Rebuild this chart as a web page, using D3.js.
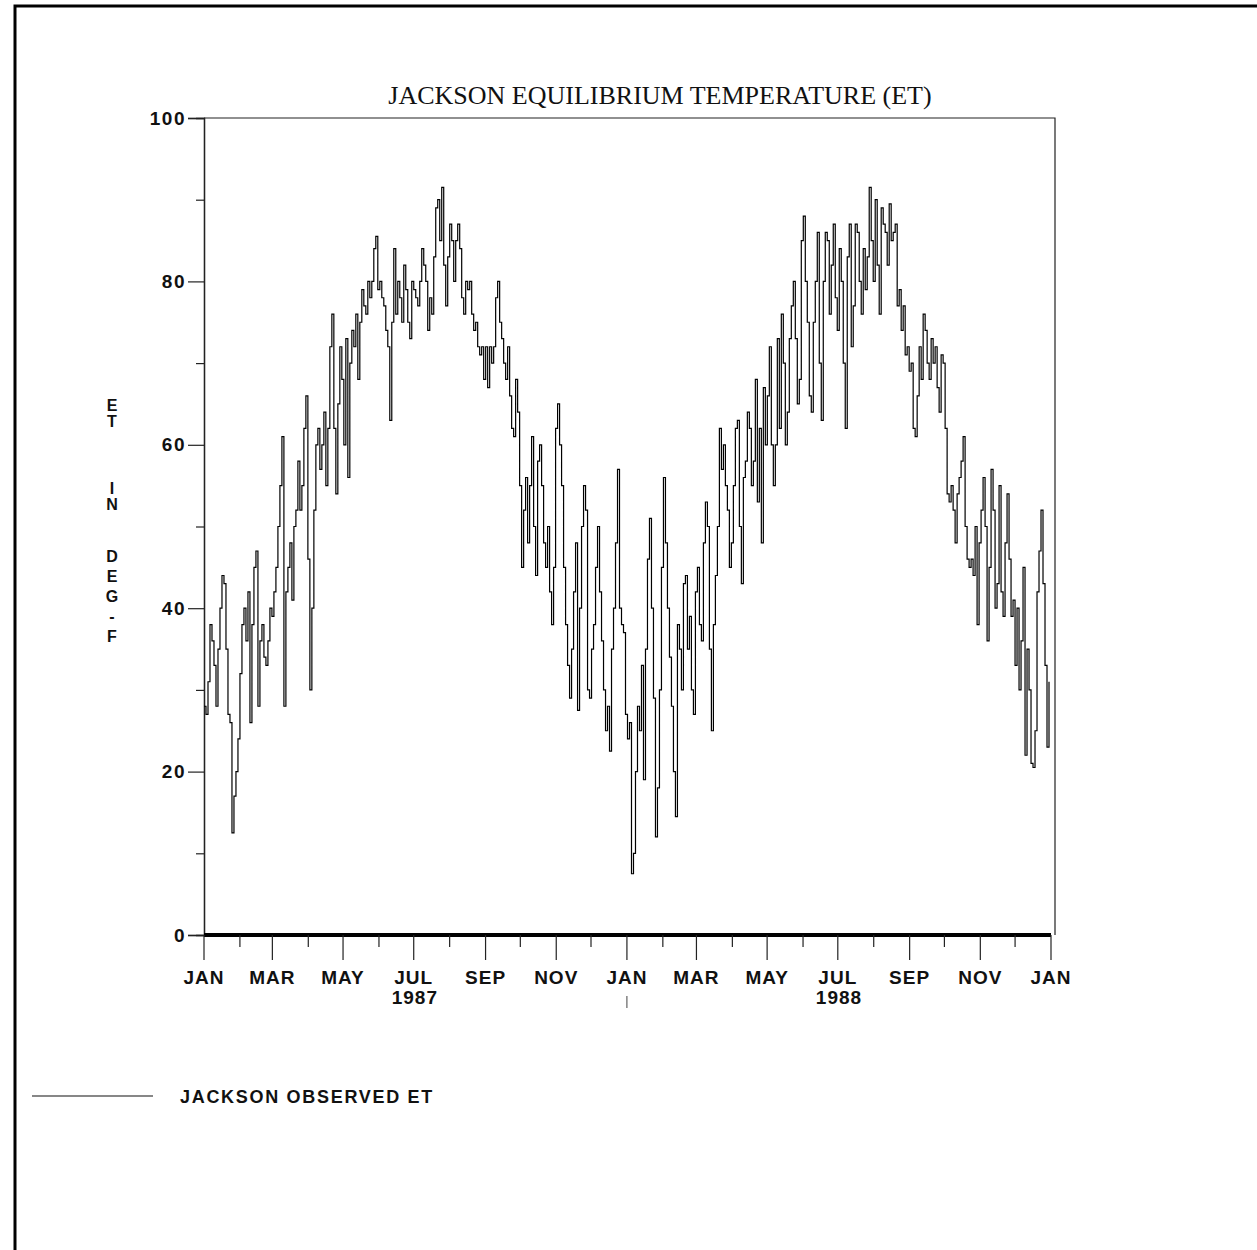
<!DOCTYPE html>
<html><head><meta charset="utf-8">
<script src="https://cdn.jsdelivr.net/npm/d3@7"></script>
<style>body{margin:0;background:#fff}svg{display:block}.vt{writing-mode:vertical-rl;text-orientation:upright}</style>
</head><body>
<svg id="c" width="1257" height="1250"></svg>
<script>
// ---- data (roughly every 1.7 days) ----
const startDate = new Date(1987, 0, 1);
const endDate = new Date(1989, 0, 1);
const values = [
28,27,31,38,36,33,28,35,40,44,43,35,27,26,
12.5,17,20,24,32,38,40,36,42,26,38,45,47,28,36,38,34,33,36,40,39,42,45,50,55,61,
28,42,45,48,41,50,52,58,52,55,62,66,46,30,40,52,60,62,57,60,64,55,62,72,
76,62,54,65,72,68,60,73,56,70,74,72,76,68,75,79,77,76,80,78,80,84,85.5,79,80,
78,77,74,72,63,75,84,76,80,78,75,82,79,75,73,80,79,78,77,80,84,82,80,74,78,
76,83,89,90,85,91.5,82,77,83,87,85,80,85,87,84,78,76,80,79,80,76,74,75,72,71,
72,68,72,67,72,70,72,78,80,75,73,70,68,72,66,62,61,68,64,55,45,52,56,48,55,
61,50,44,58,60,55,48,45,50,42,38,45,62,65,60,55,45,38,33,29,35,42,48,27.5,40,
50,55,52,30,29,35,38,45,50,42,36,30,25,28,22.5,35,40,48,57,40,38,37,27,24,26,
7.5,10,20,28,25,33,19,35,46,51,40,29,12,18,30,45,56,48,40,34,28,20,14.5,38,35,
30,43,44,35,39,30,27,42,45,38,36,48,53,50,35,25,38,44,50,62,57,60,55,52,45,
48,55,62,63,50,43,56,58,64,62,55,58,68,53,62,48,67,60,66,72,60,55,60,73,62,
76,70,60,64,73,77,80,73,65,68,85,88,80,75,66,64,75,80,86,70,63,80,86,85,76,
82,87,78,74,84,80,70,62,83,87,72,77,87,86,80,76,84,79,83,91.5,85,80,90,82,76,
89,87,86,82,89.5,85,86,87,77,79,74,77,71,72,69,70,62,61,66,72,68,76,74,70,68,
73,70,72,67,64,71,70,62,54,53,55,52,48,54,56,58,61,50,46,45,46,44,50,38,48,
52,56,50,36,45,57,52,40,43,55,42,39,48,54,46,39,41,33,40,30,36,45,22,35,30,
21,20.5,25,42,47,52,43,33,23,31
];
const yMajorTicks = [0, 20, 40, 60, 80, 100];
const yMinorTicks = [10, 30, 50, 70, 90];
const monthNames = ["JAN","FEB","MAR","APR","MAY","JUN","JUL","AUG","SEP","OCT","NOV","DEC"];
const yearLabels = ["1987", "1988"];
const titleText = "JACKSON EQUILIBRIUM TEMPERATURE (ET)";
const yTitleWords = ["ET", "IN", "DEG-F"];
const legendLabel = "JACKSON OBSERVED ET";

// ---- layout ----
const svg = d3.select("#c");
const L = 204, R = 1051, RF = 1055, T = 118, B = 935;
const x = d3.scaleTime().domain([startDate, endDate]).range([L, R]);
const y = d3.scaleLinear().domain([0, 100]).range([B, T]);
const stepMs = (endDate - startDate) / values.length;
const data = values.map((v, i) => ({ date: new Date(+startDate + i * stepMs), v }));

const sans = "'Liberation Sans', Arial, Helvetica, sans-serif";
const serif = "'Liberation Serif', 'Times New Roman', serif";

// outer frame (right and bottom edges fall outside the page)
svg.append("rect").attr("x", 15).attr("y", 6).attr("width", 1260).attr("height", 1260)
  .attr("fill", "none").attr("stroke", "#000").attr("stroke-width", 3);

// title
svg.append("text").attr("x", 660).attr("y", 104).attr("text-anchor", "middle")
  .attr("font-family", serif).attr("font-size", 26).attr("fill", "#111").text(titleText);

// plot frame (top and right)
svg.append("path").attr("d", `M${L},${T}H${RF}V${B}`).attr("fill", "none")
  .attr("stroke", "#222").attr("stroke-width", 1.2);

// y axis
const gy = svg.append("g").attr("transform", `translate(${L},0)`);
gy.call(d3.axisLeft(y).tickValues(yMajorTicks).tickSize(16).tickPadding(2).tickFormat(d3.format("d")));
gy.append("g").call(d3.axisLeft(y).tickValues(yMinorTicks).tickSize(8).tickFormat(""));
gy.selectAll(".domain").attr("stroke", "#222").attr("stroke-width", 1.3);
gy.selectAll("line").attr("stroke", "#222").attr("stroke-width", 1.2);
gy.selectAll("text").attr("font-family", sans).attr("font-weight", "bold")
  .attr("font-size", 19).attr("letter-spacing", 1.5).attr("fill", "#111");

// y title: upright stacked letters, one text per word
const yTitleTop = [397, 480, 548];
const yTitleSpacing = [-1, -1, 3];
svg.append("g").selectAll("text").data(yTitleWords).join("text")
  .attr("class", "vt")
  .attr("x", 112).attr("y", (d, i) => yTitleTop[i])
  .attr("font-family", sans).attr("font-weight", "bold").attr("font-size", 16)
  .attr("letter-spacing", (d, i) => yTitleSpacing[i])
  .attr("fill", "#111").text(d => d);

// x axis: thick baseline
svg.append("line").attr("x1", L).attr("x2", R).attr("y1", y(0)).attr("y2", y(0))
  .attr("stroke", "#000").attr("stroke-width", 4);
const months = d3.timeMonth.range(startDate, d3.timeDay.offset(endDate, 1));
const gx = svg.append("g");
gx.selectAll("line").data(months).join("line")
  .attr("x1", d => x(d)).attr("x2", d => x(d))
  .attr("y1", y(0)).attr("y2", d => y(0) + (d.getMonth() % 2 === 0 ? 25 : 12))
  .attr("stroke", "#222").attr("stroke-width", 1.2);
gx.selectAll("text").data(months.filter(d => d.getMonth() % 2 === 0)).join("text")
  .attr("x", d => x(d)).attr("y", 984).attr("text-anchor", "middle")
  .attr("font-family", sans).attr("font-weight", "bold").attr("font-size", 19)
  .attr("letter-spacing", 1).attr("fill", "#111")
  .text(d => monthNames[d.getMonth()]);
// year labels centred at mid-year
gx.selectAll("text.yr").data(yearLabels).join("text").attr("class", "yr")
  .attr("x", d => x(new Date(+d, 6, 2))).attr("y", 1004).attr("text-anchor", "middle")
  .attr("font-family", sans).attr("font-weight", "bold").attr("font-size", 19)
  .attr("letter-spacing", 1).attr("fill", "#111").text(d => d);
// year separator mark
svg.append("line").attr("x1", x(new Date(1988, 0, 1))).attr("x2", x(new Date(1988, 0, 1)))
  .attr("y1", 996).attr("y2", 1008).attr("stroke", "#444").attr("stroke-width", 1);

// data line
const line = d3.line().x(d => x(d.date)).y(d => y(d.v)).curve(d3.curveStepAfter);
svg.append("path").datum(data).attr("d", line).attr("fill", "none")
  .attr("stroke", "#000").attr("stroke-width", 1.2);

// legend
svg.append("line").attr("x1", 32).attr("x2", 153).attr("y1", 1096).attr("y2", 1096)
  .attr("stroke", "#111").attr("stroke-width", 1.2);
svg.append("text").attr("x", 180).attr("y", 1103)
  .attr("font-family", sans).attr("font-weight", "bold").attr("font-size", 18)
  .attr("letter-spacing", 1.7).attr("fill", "#111").text(legendLabel);
</script>
</body></html>
